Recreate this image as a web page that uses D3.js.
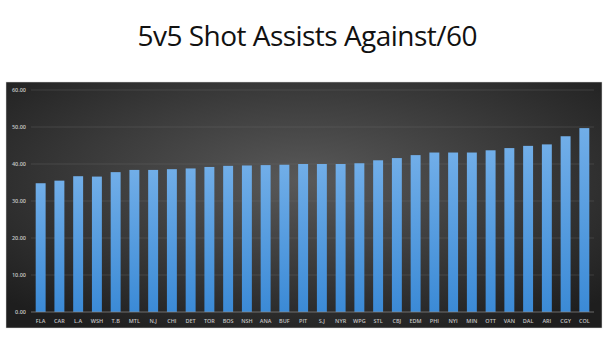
<!DOCTYPE html>
<html lang="en">
<head>
    <meta charset="UTF-8">
    <title>5v5 Shot Assists Against/60</title>
    <script src="https://cdn.jsdelivr.net/npm/d3@7"></script>
    <style>
        body {
            margin: 0;
            background-color: #ffffff;
        }

        svg {
            display: block;
        }
    </style>
</head>
<body>
    <svg id="chart" width="615" height="338"></svg>

    <script>
        const teams = ["FLA", "CAR", "L.A", "WSH", "T.B", "MTL", "N.J", "CHI", "DET", "TOR",
            "BOS", "NSH", "ANA", "BUF", "PIT", "S.J", "NYR", "WPG", "STL", "CBJ",
            "EDM", "PHI", "NYI", "MIN", "OTT", "VAN", "DAL", "ARI", "CGY", "COL"];
        const values = [34.8, 35.5, 36.7, 36.6, 37.8, 38.4, 38.4, 38.6, 38.8, 39.2,
            39.5, 39.6, 39.7, 39.8, 40.0, 40.0, 40.0, 40.2, 41.0, 41.6,
            42.4, 43.1, 43.1, 43.1, 43.7, 44.3, 44.9, 45.3, 47.5, 49.7];
        const yTicks = [0, 10, 20, 30, 40, 50, 60];

        const width = 615;
        const height = 338;
        const panel = { x: 6, y: 82, w: 596, h: 246 };
        const plot = { left: 31, right: 594, top: 90, bottom: 312 };

        const svg = d3.select("#chart");
        const defs = svg.append("defs");

        const bg = defs.append("radialGradient")
            .attr("id", "bg")
            .attr("cx", "50%").attr("cy", "40%").attr("r", "70%");
        bg.append("stop").attr("offset", "0%").attr("stop-color", "#595959");
        bg.append("stop").attr("offset", "100%").attr("stop-color", "#1e1e1e");

        const barGrad = defs.append("linearGradient")
            .attr("id", "bar")
            .attr("x1", 0).attr("y1", 0).attr("x2", 0).attr("y2", 1);
        barGrad.append("stop").attr("offset", "0%").attr("stop-color", "#71aee8");
        barGrad.append("stop").attr("offset", "100%").attr("stop-color", "#3b8ad6");

        // title
        svg.append("text")
            .attr("x", width / 2)
            .attr("y", 46)
            .attr("text-anchor", "middle")
            .attr("font-family", "Open Sans")
            .attr("font-size", "28px")
            .attr("fill", "#111")
            .attr("textLength", 340)
            .text("5v5 Shot Assists Against/60");

        // chart panel
        svg.append("rect")
            .attr("x", panel.x)
            .attr("y", panel.y)
            .attr("width", panel.w)
            .attr("height", panel.h)
            .attr("fill", "url(#bg)")
            .attr("stroke", "#d9d9d9")
            .attr("stroke-width", 0.5);

        const x = d3.scaleBand()
            .domain(teams)
            .range([plot.left, plot.right])
            .paddingInner(0.47)
            .paddingOuter(0.25);

        const y = d3.scaleLinear()
            .domain([0, 60])
            .range([plot.bottom, plot.top]);

        // grid lines
        svg.append("g")
            .selectAll("line")
            .data(yTicks.slice(1))
            .join("line")
            .attr("x1", plot.left)
            .attr("x2", plot.right)
            .attr("y1", d => y(d))
            .attr("y2", d => y(d))
            .attr("stroke", "#6a6a6a")
            .attr("stroke-opacity", 0.6)
            .attr("stroke-width", 0.6);

        // y labels
        svg.append("g")
            .selectAll("text")
            .data(yTicks)
            .join("text")
            .attr("x", 26)
            .attr("y", d => y(d) + 2)
            .attr("text-anchor", "end")
            .attr("font-family", "Open Sans")
            .attr("font-size", "5.5px")
            .attr("font-weight", "600")
            .attr("fill", "#c4c4c4")
            .text(d => d.toFixed(2));

        // bars
        svg.append("g")
            .selectAll("rect")
            .data(values)
            .join("rect")
            .attr("x", (d, i) => x(teams[i]))
            .attr("y", d => y(d))
            .attr("width", x.bandwidth())
            .attr("height", d => y(0) - y(d))
            .attr("fill", "url(#bar)");

        // baseline
        svg.append("line")
            .attr("x1", plot.left)
            .attr("x2", plot.right)
            .attr("y1", y(0))
            .attr("y2", y(0))
            .attr("stroke", "#8c8c8c")
            .attr("stroke-width", 0.7);

        // x labels
        svg.append("g")
            .selectAll("text")
            .data(teams)
            .join("text")
            .attr("x", d => x(d) + x.bandwidth() / 2)
            .attr("y", 322.5)
            .attr("text-anchor", "middle")
            .attr("font-family", "Open Sans")
            .attr("font-size", "5.5px")
            .attr("font-weight", "600")
            .attr("fill", "#c4c4c4")
            .text(d => d);
    </script>
</body>
</html>
